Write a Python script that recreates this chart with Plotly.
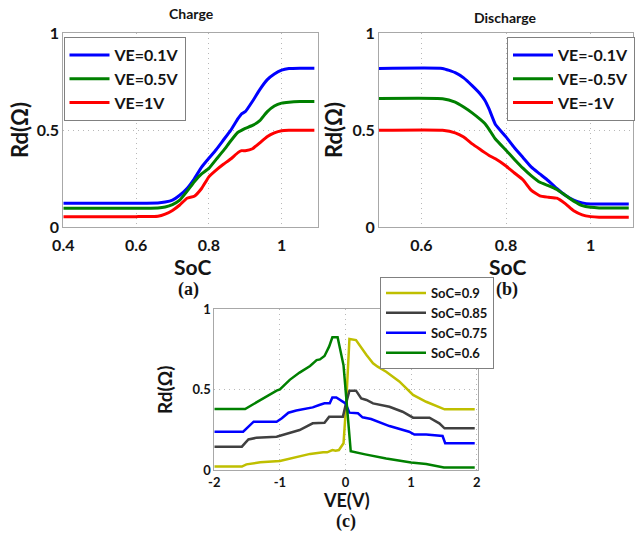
import plotly.graph_objects as go

# ---------------- data ----------------
# (a) Charge
charge_soc = [0.40, 0.60, 0.66, 0.68, 0.70, 0.72, 0.74, 0.76, 0.78, 0.80, 0.82, 0.84,
              0.86, 0.88, 0.89, 0.90, 0.92, 0.94, 0.96, 0.98, 1.00, 1.02, 1.05, 1.09]
charge_ve01 = [0.124, 0.124, 0.125, 0.13, 0.14, 0.165, 0.20, 0.25, 0.31, 0.356, 0.40, 0.45,
               0.50, 0.56, 0.585, 0.596, 0.65, 0.71, 0.76, 0.79, 0.81, 0.818, 0.82, 0.82]
charge_ve05 = [0.098, 0.098, 0.10, 0.105, 0.117, 0.14, 0.185, 0.235, 0.275, 0.304, 0.35, 0.395,
               0.445, 0.49, 0.50, 0.51, 0.525, 0.55, 0.595, 0.625, 0.64, 0.645, 0.648, 0.648]
charge_ve1 = [0.055, 0.055, 0.057, 0.068, 0.087, 0.115, 0.15, 0.16, 0.20, 0.26, 0.295, 0.325,
              0.352, 0.385, 0.395, 0.395, 0.405, 0.435, 0.467, 0.487, 0.498, 0.50, 0.50, 0.50]
charge_names = ["VE=0.1V", "VE=0.5V", "VE=1V"]

# (b) Discharge
dis_soc = [0.50, 0.65, 0.68, 0.70, 0.72, 0.74, 0.75, 0.76, 0.775, 0.80, 0.82, 0.84,
           0.86, 0.88, 0.90, 0.92, 0.94, 0.96, 0.98, 1.00, 1.02, 1.09]
dis_ve01 = [0.819, 0.819, 0.797, 0.77, 0.73, 0.685, 0.655, 0.61, 0.53, 0.466, 0.41, 0.36,
            0.31, 0.275, 0.24, 0.20, 0.165, 0.14, 0.126, 0.12, 0.12, 0.12]
dis_ve05 = [0.664, 0.663, 0.645, 0.62, 0.59, 0.555, 0.535, 0.505, 0.455, 0.397, 0.35, 0.305,
            0.265, 0.232, 0.215, 0.195, 0.165, 0.135, 0.112, 0.103, 0.10, 0.10]
dis_ve1 = [0.50, 0.50, 0.487, 0.465, 0.43, 0.40, 0.385, 0.37, 0.353, 0.316, 0.28, 0.245,
           0.19, 0.162, 0.155, 0.15, 0.122, 0.085, 0.064, 0.055, 0.052, 0.052]
dis_names = ["VE=-0.1V", "VE=-0.5V", "VE=-1V"]

# (c) Rd vs VE
ve_soc09 = [-2, -1.58, -1.51, -1.3, -1.0, -0.75, -0.54, -0.34, -0.28, -0.2, -0.15, -0.1,
            -0.03, 0.01, 0.06, 0.16, 0.21, 0.32, 0.42, 0.49, 0.62, 0.82, 1.03, 1.23, 1.51, 1.97]
rd_soc09 = [0.021, 0.021, 0.035, 0.048, 0.056, 0.079, 0.10, 0.11, 0.11, 0.124, 0.12, 0.124,
            0.166, 0.41, 0.814, 0.807, 0.776, 0.714, 0.663, 0.642, 0.61, 0.55, 0.466, 0.424, 0.377, 0.377]
ve_soc085 = [-2, -1.58, -1.48, -1.36, -1.05, -0.85, -0.7, -0.5, -0.32, -0.25, -0.1, -0.04,
             0.0, 0.06, 0.16, 0.24, 0.32, 0.42, 0.67, 0.87, 1.03, 1.28, 1.43, 1.51, 1.97]
rd_soc085 = [0.145, 0.145, 0.19, 0.20, 0.207, 0.228, 0.248, 0.29, 0.294, 0.33, 0.33, 0.33,
             0.40, 0.493, 0.493, 0.445, 0.435, 0.414, 0.393, 0.362, 0.325, 0.325, 0.29, 0.259, 0.259]
ve_soc075 = [-2, -1.56, -1.4, -1.05, -0.97, -0.87, -0.75, -0.5, -0.4, -0.32, -0.24, -0.2,
             -0.14, -0.07, 0.0, 0.06, 0.19, 0.26, 0.39, 0.67, 0.97, 1.05, 1.23, 1.48, 1.52, 1.97]
rd_soc075 = [0.238, 0.238, 0.30, 0.30, 0.321, 0.356, 0.369, 0.389, 0.404, 0.414, 0.414, 0.451,
             0.451, 0.43, 0.414, 0.356, 0.352, 0.327, 0.317, 0.273, 0.238, 0.22, 0.22, 0.211, 0.166, 0.166]
ve_soc06 = [-2, -1.53, -1.05, -1.0, -0.85, -0.7, -0.54, -0.44, -0.39, -0.32, -0.25, -0.2,
            -0.12, -0.03, 0.08, 0.2, 0.3, 0.62, 1.0, 1.23, 1.5, 1.97]
rd_soc06 = [0.379, 0.379, 0.493, 0.50, 0.56, 0.605, 0.646, 0.683, 0.687, 0.708, 0.766, 0.824,
            0.824, 0.65, 0.116, 0.108, 0.097, 0.072, 0.046, 0.037, 0.015, 0.015]
ve_names = ["SoC=0.9", "SoC=0.85", "SoC=0.75", "SoC=0.6"]

soc_ticks_a = [0.4, 0.6, 0.8, 1.0]
soc_ticks_b = [0.6, 0.8, 1.0]
rd_ticks = [0, 0.5, 1]
ve_ticks = [-2, -1, 0, 1, 2]
ve_ticklabels = ["-2", "-1", "0", "1", "2"]

# ---------------- figure ----------------
W, H = 635, 533


def fx(p):
    return p / W


def fy(p):
    return 1 - p / H


BLUE, GREEN, RED = "#0000ff", "#008000", "#ff0000"
YEL, GRAY = "#bfbf00", "#404040"
TXT = "#141414"
FONT = "Lato"

fig = go.Figure()

for y, name, col in zip([charge_ve01, charge_ve05, charge_ve1], charge_names, [BLUE, GREEN, RED]):
    fig.add_trace(go.Scatter(x=charge_soc, y=y, name=name, mode="lines",
                             line=dict(color=col, width=3, shape="spline", smoothing=0.4),
                             xaxis="x", yaxis="y", legend="legend"))
for y, name, col in zip([dis_ve01, dis_ve05, dis_ve1], dis_names, [BLUE, GREEN, RED]):
    fig.add_trace(go.Scatter(x=dis_soc, y=y, name=name, mode="lines",
                             line=dict(color=col, width=3, shape="spline", smoothing=0.4),
                             xaxis="x2", yaxis="y2", legend="legend2"))
for xs, ys, name, col in zip([ve_soc09, ve_soc085, ve_soc075, ve_soc06],
                             [rd_soc09, rd_soc085, rd_soc075, rd_soc06],
                             ve_names, [YEL, GRAY, BLUE, GREEN]):
    fig.add_trace(go.Scatter(x=xs, y=ys, name=name, mode="lines",
                             line=dict(color=col, width=2.5),
                             xaxis="x3", yaxis="y3", legend="legend3"))

ax = dict(showline=True, linecolor="#a8a8a8", linewidth=1, mirror=True,
          showgrid=True, gridcolor="#b8b8b8", griddash="1px,4px", gridwidth=1,
          zeroline=False, ticks="", automargin=False)
big_tick = dict(family=FONT, size=16, weight="bold", color=TXT)
small_tick = dict(family=FONT, size=13, weight="bold", color=TXT)
leg_common = dict(xanchor="left", yanchor="top", bgcolor="white", bordercolor="#808080",
                  borderwidth=1, itemwidth=40, tracegroupgap=0)

fig.update_layout(
    width=W, height=H, margin=dict(l=0, r=0, t=0, b=0, autoexpand=False),
    paper_bgcolor="white", plot_bgcolor="white", showlegend=True,
    xaxis=dict(ax, domain=[fx(63.3), fx(318)], range=[0.4, 1.1], tickvals=soc_ticks_a,
               tickfont=big_tick, anchor="y", ticklabelstandoff=3),
    yaxis=dict(ax, domain=[fy(227.3), fy(33.3)], range=[0, 1], tickvals=rd_ticks,
               tickfont=big_tick, anchor="x"),
    xaxis2=dict(ax, domain=[fx(379), fx(633)], range=[0.5, 1.1], tickvals=soc_ticks_b,
                tickfont=big_tick, anchor="y2", ticklabelstandoff=3),
    yaxis2=dict(ax, domain=[fy(227.3), fy(33.3)], range=[0, 1], tickvals=rd_ticks,
                tickfont=big_tick, anchor="x2"),
    xaxis3=dict(ax, domain=[fx(214.3), fx(478)], range=[-2, 2.02], tickvals=ve_ticks,
                ticktext=ve_ticklabels, tickfont=small_tick, anchor="y3"),
    yaxis3=dict(ax, domain=[fy(470), fy(309)], range=[0, 1], tickvals=rd_ticks,
                tickfont=small_tick, anchor="x3"),
    legend=dict(leg_common, x=fx(63.5), y=fy(37),
                font=dict(family=FONT, size=16, weight="bold", color=TXT)),
    legend2=dict(leg_common, x=fx(507), y=fy(37),
                 font=dict(family=FONT, size=16, weight="bold", color=TXT)),
    legend3=dict(leg_common, x=fx(380), y=fy(277),
                 font=dict(family=FONT, size=13, weight="bold", color=TXT)),
)

ann = []


def add_text(text, x, y, size, family=FONT, angle=0, weight="bold"):
    ann.append(dict(text=text, x=fx(x), y=fy(y), xref="paper", yref="paper",
                    showarrow=False, xanchor="center", yanchor="middle", textangle=angle,
                    font=dict(family=family, size=size, weight=weight, color=TXT)))


add_text("Charge", 191, 13, 14)
add_text("Discharge", 505, 17, 14)
add_text("Rd(Ω)", 19, 130, 22, angle=-90)
add_text("Rd(Ω)", 333, 130, 22, angle=-90)
add_text("SoC", 192, 266, 21)
add_text("SoC", 507, 266, 21)
add_text("(a)", 188, 289, 18, family="Liberation Serif")
add_text("(b)", 507, 289, 18, family="Liberation Serif")
add_text("Rd(Ω)", 164, 390, 19, angle=-90)
add_text("VE(V)", 346, 500, 18)
add_text("(c)", 346, 521, 18, family="Liberation Serif")
fig.update_layout(annotations=ann)

fig.write_html("out.html", config={"displayModeBar": False},
               post_script="document.body.style.margin='0';document.body.style.padding='0';"
                           "document.body.style.overflow='hidden';")
